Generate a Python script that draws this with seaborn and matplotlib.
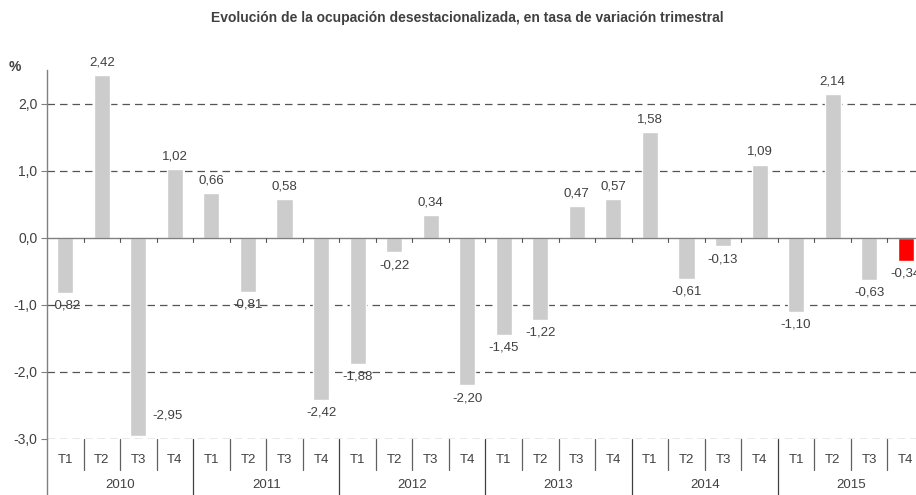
import numpy as np
import pandas as pd
import matplotlib
matplotlib.use("Agg")
import matplotlib.pyplot as plt
import seaborn as sns

# ── Data ───────────────────────────────────────────────────────────────────────
years = ["2010", "2011", "2012", "2013", "2014", "2015"]
quarters = ["T1", "T2", "T3", "T4"]
values = [-0.82, 2.42, -2.95, 1.02,
          0.66, -0.81, 0.58, -2.42,
          -1.88, -0.22, 0.34, -2.20,
          -1.45, -1.22, 0.47, 0.57,
          1.58, -0.61, -0.13, 1.09,
          -1.10, 2.14, -0.63, -0.34]
highlight = ["gris"] * 23 + ["rojo"]
yticks = [-3.0, -2.0, -1.0, 0.0, 1.0, 2.0]

labels = [f"{y} {q}" for y in years for q in quarters]
df = pd.DataFrame({"periodo": labels, "tasa": values, "color": highlight})

# ── Style ──────────────────────────────────────────────────────────────────────
sns.set_style("white")
plt.rcParams["font.family"] = ["Liberation Sans", "DejaVu Sans"]
TXT = "#404040"

fig = plt.figure(figsize=(9.16, 4.95), dpi=100)
# the chart is wider than the picture: its last column is cut at the right edge
ax = fig.add_axes([47 / 916, 56 / 495, 877 / 916, 369 / 495])

sns.barplot(data=df, x="periodo", y="tasa", hue="color",
            palette={"gris": "#cccccc", "rojo": "#ff0000"},
            width=0.44, legend=False, ax=ax, saturation=1)

ax.set_xlim(-0.5, len(values) - 0.5)
ax.set_ylim(-3.0, 2.5)
ax.set_yticks(yticks)
ax.set_yticklabels([f"{t:.1f}".replace(".", ",") for t in yticks],
                   fontsize=10, color=TXT)
ax.tick_params(axis="y", length=4, width=0.8, color="#808080", pad=3, left=True)
ax.set_xticks([])
ax.set_xlabel(""); ax.set_ylabel("")

for s in ["top", "right", "bottom"]:
    ax.spines[s].set_visible(False)
ax.spines["left"].set_color("#808080")
ax.spines["left"].set_linewidth(1.0)

# dashed grid lines + zero line
for t in yticks:
    if t == 0:
        ax.axhline(0, color="#808080", lw=1.0, zorder=3)
    else:
        ax.axhline(t, color="#555555", lw=0.9, ls=(0, (6, 4)), zorder=0)

# small ticks on zero line
for i in range(1, len(values)):
    ax.plot([i - 0.5, i - 0.5], [0, -0.06], color="#555555", lw=0.8, zorder=3)

# value labels
for i, v in enumerate(values):
    txt = f"{v:.2f}".replace(".", ",")
    if v >= 0:
        ax.text(i, v + 0.1, txt, ha="center", va="bottom", fontsize=9.5, color=TXT)
    elif v < -2.7:
        ax.text(i + 0.8, v + 0.3, txt, ha="center", va="center", fontsize=9.5, color=TXT)
    else:
        ax.text(i, v - 0.1, txt, ha="center", va="top", fontsize=9.5, color=TXT)

# category table under the axis
trans = ax.get_xaxis_transform()
for i in range(len(values)):
    ax.text(i, -0.057, quarters[i % 4], transform=trans, ha="center", va="center",
            fontsize=9.5, color=TXT, clip_on=False)
for k, y in enumerate(years):
    ax.text(4 * k + 1.5, -0.125, y, transform=trans, ha="center", va="center",
            fontsize=9.5, color=TXT, clip_on=False)
for i in range(1, len(values)):
    x = i - 0.5
    if i % 4 == 0:
        ax.plot([x, x], [0, -0.155], transform=trans, color="#404040", lw=0.9,
                clip_on=False)
    else:
        ax.plot([x, x], [0, -0.084], transform=trans, color="#606060", lw=0.9,
                clip_on=False)
ax.plot([-0.5, -0.5], [0, -0.155], transform=trans, color="#808080", lw=1.0,
        clip_on=False)

# titles
fig.text(467 / 916, 1 - 18 / 495,
         "Evolución de la ocupación desestacionalizada, en tasa de variación trimestral",
         ha="center", va="center", fontsize=10, fontweight="bold", color=TXT)
fig.text(15 / 916, 1 - 67 / 495, "%", ha="center", va="center",
         fontsize=10, fontweight="bold", color=TXT)

fig.savefig("out.png", dpi=100)
